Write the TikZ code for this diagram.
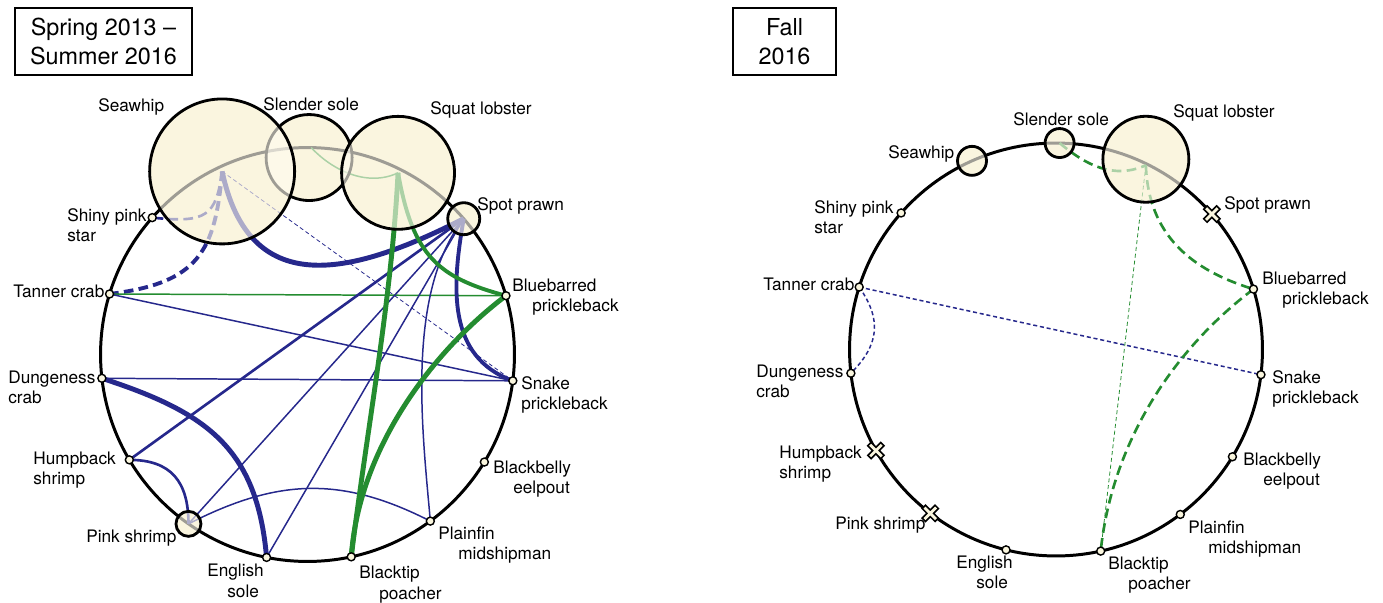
\documentclass[tikz,border=0pt]{standalone}
\usepackage{fontspec}
\setmainfont{TeX Gyre Heros}
\usetikzlibrary{calc}

\definecolor{edgeblue}{RGB}{38,40,140}
\definecolor{edgegreen}{RGB}{36,140,48}
\definecolor{bubblebase}{RGB}{244,234,196}
\definecolor{bubbleveil}{RGB}{255,252,240}
\definecolor{dotfill}{RGB}{250,246,222}

\newcommand{\ind}{\hspace*{0.4cm}}

\tikzset{
	ring/.style={line width=1.7pt},
	bubble/.style={circle, draw, line width=1.6pt, fill=bubbleveil, fill opacity=0.62, inner sep=0pt},
	dot/.style={circle, draw, line width=0.8pt, fill=dotfill, inner sep=0pt, minimum size=0.16cm},
	lab/.style={font=\fontsize{9.8}{11.6}\selectfont, inner sep=0pt, anchor=base west, align=left},
	titlebox/.style={draw, line width=0.6pt, align=center, inner sep=0pt, font=\fontsize{13.3}{16.5}\selectfont},
	bl/.style={draw=edgeblue},
	gr/.style={draw=edgegreen},
	wA/.style={line width=2.8pt},
	wB/.style={line width=2.2pt},
	wC/.style={line width=1.5pt},
	wD/.style={line width=0.85pt},
	wE/.style={line width=0.45pt},
	bigdash/.style={dash pattern=on 5.5pt off 3pt},
	smalldash/.style={dash pattern=on 2.3pt off 1.6pt},
	lost/.pic={
		\draw[line width=3.6pt] (-7,-7) -- (7,7) (-7,7) -- (7,-7);
		\draw[line width=1.6pt, draw=dotfill] (-5.8,-5.8) -- (5.8,5.8) (-5.8,5.8) -- (5.8,-5.8);
	}
}

\begin{document}
\begin{tikzpicture}[x=0.02cm, y=-0.02cm]
	\useasboundingbox (0,0) rectangle (1383,602);

	% titles
	\node[titlebox, minimum width=3.54cm, minimum height=1.34cm] (L-title) at (103.5,41.5) {Spring 2013 –\\Summer 2016};
	\node[titlebox, minimum width=2.06cm, minimum height=1.34cm] (R-title) at (784.5,41.5) {Fall\\2016};

	%%% Spring 2013 - Summer 2016
	\coordinate (L) at (307.5,354.5);
	\coordinate (L-slender) at ($(L)+(-89:207)$);
	\coordinate (L-squat) at ($(L)+(-63.5:203)$);
	\coordinate (L-spot) at ($(L)+(-41:207)$);
	\coordinate (L-bluebarred) at ($(L)+(-16.5:207)$);
	\coordinate (L-snake) at ($(L)+(7.3:207)$);
	\coordinate (L-blackbelly) at ($(L)+(31.3:207)$);
	\coordinate (L-plainfin) at ($(L)+(53.6:207)$);
	\coordinate (L-blacktip) at ($(L)+(77.8:207)$);
	\coordinate (L-english) at ($(L)+(101.4:207)$);
	\coordinate (L-pink) at ($(L)+(125.1:207)$);
	\coordinate (L-humpback) at ($(L)+(149.4:207)$);
	\coordinate (L-dungeness) at ($(L)+(173.4:207)$);
	\coordinate (L-tanner) at ($(L)+(-163:207)$);
	\coordinate (L-shiny) at ($(L)+(-138.6:207)$);
	\coordinate (L-seawhip) at ($(L)+(-115:202)$);
	\coordinate (L-slender-c) at ($(L-slender)+(-2,10)$);

	% bubble grounds
	\fill[bubblebase] (L-slender-c) circle[radius=0.86cm];
	\fill[bubblebase] (L-seawhip) circle[radius=1.45cm];
	\fill[bubblebase] (L-squat) circle[radius=1.13cm];
	\fill[bubblebase] (L-spot) circle[radius=0.32cm];
	\fill[bubblebase] (L-pink) circle[radius=0.25cm];

	\draw[ring] (L) circle[radius=4.14cm];

	\draw[bl, wC, bigdash] (L-seawhip) .. controls +(98:45) and +(6:55) .. (L-shiny);
	\draw[bl, wB, bigdash] (L-seawhip) .. controls +(95:80) and +(-7:90) .. (L-tanner);
	\draw[bl, wA] (L-seawhip) .. controls +(78:130) and +(153:130) .. (L-spot);
	\draw[bl, wE, smalldash] (L-seawhip) -- (L-snake);
	\draw[gr, wD] (L-tanner) -- (L-bluebarred);
	\draw[bl, wD] (L-tanner) -- (L-snake);
	\draw[bl, wD] (L-dungeness) -- (L-snake);
	\draw[bl, wA] (L-dungeness) .. controls +(18:110) and +(-95:110) .. (L-english);
	\draw[bl, wC] (L-humpback) -- (L-spot);
	\draw[bl, wC] (L-humpback) .. controls +(0:42) and +(-90:42) .. (L-pink);
	\draw[bl, wD] (L-pink) -- (L-spot);
	\draw[bl, wD] (L-pink) .. controls +(-27:100) and +(-153:100) .. (L-plainfin);
	\draw[bl, wD] (L-english) -- (L-spot);
	\draw[bl, wD] (L-plainfin) .. controls +(-95:90) and +(128:95) .. (L-spot);
	\draw[bl, wB] (L-spot) .. controls +(100:70) and +(200:70) .. (L-snake);
	\draw[gr, wA] (L-squat) .. controls +(93:130) and +(-83:130) .. (L-blacktip);
	\draw[gr, wB] (L-squat) .. controls +(80:85) and +(195:70) .. (L-bluebarred);
	\draw[gr, wA] (L-bluebarred) .. controls +(143:90) and +(-86:110) .. (L-blacktip);
	\draw[gr, wD] (L-slender) .. controls +(47:30) and +(155:35) .. (L-squat);

	\node[bubble, minimum size=1.72cm] (L-slender-b) at (L-slender-c) {};
	\node[bubble, minimum size=2.9cm] (L-seawhip-b) at (L-seawhip) {};
	\node[bubble, minimum size=2.26cm] (L-squat-b) at (L-squat) {};
	\node[bubble, minimum size=0.64cm] (L-spot-b) at (L-spot) {};
	\node[bubble, minimum size=0.5cm] (L-pink-b) at (L-pink) {};

	\node[dot] (L-tanner-d) at (L-tanner) {};
	\node[dot] (L-shiny-d) at (L-shiny) {};
	\node[dot] (L-bluebarred-d) at (L-bluebarred) {};
	\node[dot] (L-snake-d) at (L-snake) {};
	\node[dot] (L-blackbelly-d) at (L-blackbelly) {};
	\node[dot] (L-plainfin-d) at (L-plainfin) {};
	\node[dot] (L-blacktip-d) at (L-blacktip) {};
	\node[dot] (L-english-d) at (L-english) {};
	\node[dot] (L-humpback-d) at (L-humpback) {};
	\node[dot] (L-dungeness-d) at (L-dungeness) {};

	\node[lab] (L-seawhip-l) at (98,111) {Seawhip};
	\node[lab] (L-slender-l) at (263,110) {Slender sole};
	\node[lab] (L-squat-l) at (430,114) {Squat lobster};
	\node[lab] (L-spot-l) at (477,210) {Spot prawn};
	\node[lab] (L-shiny-l) at (67,241.5) {Shiny pink\\star};
	\node[lab] (L-tanner-l) at (13,297) {Tanner crab};
	\node[lab] (L-bluebarred-l) at (512,311.5) {Bluebarred\\\ind prickleback};
	\node[lab] (L-dungeness-l) at (8,403.5) {Dungeness\\crab};
	\node[lab] (L-snake-l) at (521,409.5) {Snake\\prickleback};
	\node[lab] (L-humpback-l) at (33,484.5) {Humpback\\shrimp};
	\node[lab] (L-blackbelly-l) at (493,493.5) {Blackbelly\\\ind eelpout};
	\node[lab] (L-pink-l) at (86,542) {Pink shrimp};
	\node[lab] (L-english-l) at (207,597) {English\\\ind sole};
	\node[lab] (L-plainfin-l) at (438,559.5) {Plainfin\\\ind midshipman};
	\node[lab] (L-blacktip-l) at (359,599) {Blacktip\\\ind poacher};

	%%% Fall 2016
	\coordinate (R) at (1056,349.5);
	\coordinate (R-slender) at ($(R)+(-89:206.5)$);
	\coordinate (R-squat) at ($(R)+(-64:205)$);
	\coordinate (R-spot) at ($(R)+(-41:206.5)$);
	\coordinate (R-bluebarred) at ($(R)+(-17:206.5)$);
	\coordinate (R-snake) at ($(R)+(7:206.5)$);
	\coordinate (R-blackbelly) at ($(R)+(31.3:206.5)$);
	\coordinate (R-plainfin) at ($(R)+(53:206.5)$);
	\coordinate (R-blacktip) at ($(R)+(77.5:206.5)$);
	\coordinate (R-english) at ($(R)+(104:206.5)$);
	\coordinate (R-pink) at ($(R)+(127.5:206.5)$);
	\coordinate (R-humpback) at ($(R)+(150.7:206.5)$);
	\coordinate (R-dungeness) at ($(R)+(173.4:206.5)$);
	\coordinate (R-tanner) at ($(R)+(-162.4:206.5)$);
	\coordinate (R-shiny) at ($(R)+(-138.6:206.5)$);
	\coordinate (R-seawhip) at ($(R)+(-114:206.5)$);
	\coordinate (R-squat-c) at ($(R-squat)+(0,-6)$);

	% bubble grounds
	\fill[bubblebase] (R-slender) circle[radius=0.29cm];
	\fill[bubblebase] (R-seawhip) circle[radius=0.29cm];
	\fill[bubblebase] (R-squat-c) circle[radius=0.86cm];

	\draw[ring] (R) circle[radius=4.13cm];

	\draw[bl, wD, smalldash] (R-tanner) -- (R-snake);
	\draw[bl, wD, smalldash] (R-tanner) .. controls +(55:40) and +(-45:40) .. (R-dungeness);
	\draw[gr, wC, bigdash] (R-slender) .. controls +(40:35) and +(156:35) .. (R-squat);
	\draw[gr, wC, bigdash] (R-squat) .. controls +(88:70) and +(197:65) .. (R-bluebarred);
	\draw[gr, wC, bigdash] (R-bluebarred) .. controls +(143:100) and +(-84:110) .. (R-blacktip);
	\draw[gr, wE, smalldash] (R-squat) -- (R-blacktip);

	\node[bubble, minimum size=0.58cm] (R-slender-b) at (R-slender) {};
	\node[bubble, minimum size=0.58cm] (R-seawhip-b) at (R-seawhip) {};
	\node[bubble, minimum size=1.72cm] (R-squat-b) at (R-squat-c) {};

	\node[dot] (R-tanner-d) at (R-tanner) {};
	\node[dot] (R-shiny-d) at (R-shiny) {};
	\node[dot] (R-bluebarred-d) at (R-bluebarred) {};
	\node[dot] (R-snake-d) at (R-snake) {};
	\node[dot] (R-blackbelly-d) at (R-blackbelly) {};
	\node[dot] (R-plainfin-d) at (R-plainfin) {};
	\node[dot] (R-blacktip-d) at (R-blacktip) {};
	\node[dot] (R-english-d) at (R-english) {};
	\node[dot] (R-dungeness-d) at (R-dungeness) {};
	\pic at (R-spot) {lost};
	\pic at (R-humpback) {lost};
	\pic at (R-pink) {lost};

	\node[lab] (R-seawhip-l) at (888,158) {Seawhip};
	\node[lab] (R-slender-l) at (1013,125) {Slender sole};
	\node[lab] (R-squat-l) at (1173,117) {Squat lobster};
	\node[lab] (R-spot-l) at (1224,209) {Spot prawn};
	\node[lab] (R-shiny-l) at (814,233.5) {Shiny pink\\star};
	\node[lab] (R-tanner-l) at (763,290) {Tanner crab};
	\node[lab] (R-bluebarred-l) at (1262,304.5) {Bluebarred\\\ind prickleback};
	\node[lab] (R-dungeness-l) at (756,397.5) {Dungeness\\crab};
	\node[lab] (R-snake-l) at (1272,403.5) {Snake\\prickleback};
	\node[lab] (R-humpback-l) at (779,478.5) {Humpback\\shrimp};
	\node[lab] (R-blackbelly-l) at (1243,485.5) {Blackbelly\\\ind eelpout};
	\node[lab] (R-pink-l) at (835,529) {Pink shrimp};
	\node[lab] (R-english-l) at (956,588.5) {English\\\ind sole};
	\node[lab] (R-plainfin-l) at (1188,553.5) {Plainfin\\\ind midshipman};
	\node[lab] (R-blacktip-l) at (1108,589.5) {Blacktip\\\ind poacher};
\end{tikzpicture}
\end{document}
